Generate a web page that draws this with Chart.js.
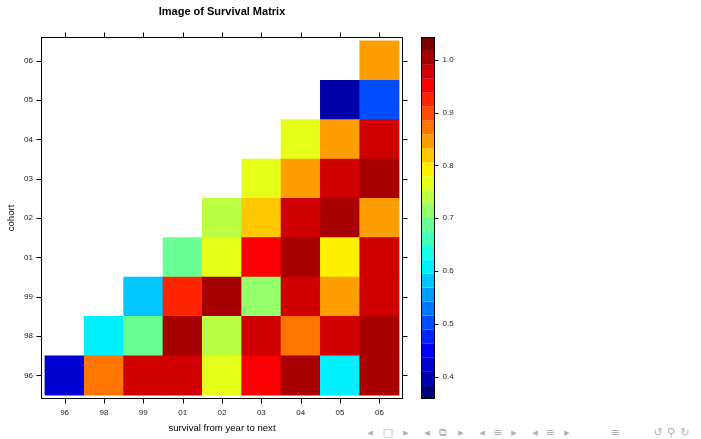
<!DOCTYPE html>
<html><head><meta charset="utf-8">
<script src="https://cdn.jsdelivr.net/npm/chart.js@4/dist/chart.umd.min.js"></script>
<style>html,body{margin:0;padding:0;background:#fff;overflow:hidden}#wrap{position:relative;width:701px;height:439px}</style>
</head><body><div id="wrap"><canvas id="c" width="701" height="439"></canvas></div>
<script>
const years = ['96','98','99','01','02','03','04','05','06'];
const cohorts = ['96','98','99','01','02','03','04','05','06'];
// survival values per cohort (rows, bottom to top), columns follow `years`
const row96 = [0.42,0.87,0.98,0.98,0.77,0.95,1.00,0.61,1.00];
const row98 = [null,0.61,0.69,1.00,0.74,0.98,0.87,0.98,1.00];
const row99 = [null,null,0.58,0.92,1.00,0.71,0.98,0.85,0.98];
const row01 = [null,null,null,0.69,0.77,0.95,1.00,0.79,0.98];
const row02 = [null,null,null,null,0.74,0.82,0.98,1.00,0.85];
const row03 = [null,null,null,null,null,0.77,0.85,0.98,1.00];
const row04 = [null,null,null,null,null,null,0.77,0.85,0.98];
const row05 = [null,null,null,null,null,null,null,0.40,0.50];
const row06 = [null,null,null,null,null,null,null,null,0.85];
const rows = [row96,row98,row99,row01,row02,row03,row04,row05,row06];
const colorbarTicks = [0.4,0.5,0.6,0.7,0.8,0.9,1.0];
const levelMin = 0.358, levelMax = 1.043, levelCount = 26;
const jetAnchors = ['#00007F','#0000FF','#007FFF','#00FFFF','#7FFF7F','#FFFF00','#FF7F00','#FF0000','#7F0000'];
const chartTitle = 'Image of Survival Matrix';

function hexToRgb(h){return [parseInt(h.substr(1,2),16),parseInt(h.substr(3,2),16),parseInt(h.substr(5,2),16)];}
const anchorsRgb = jetAnchors.map(hexToRgb);
const palette = [];
for (let i=0;i<levelCount;i++){
  const p = i*(anchorsRgb.length-1)/(levelCount-1);
  const k = Math.min(Math.floor(p), anchorsRgb.length-2), f = p-k;
  const c = anchorsRgb[k].map((a,j)=>Math.round(a+(anchorsRgb[k+1][j]-a)*f));
  palette.push('rgb('+c.join(',')+')');
}
const levelStep = (levelMax-levelMin)/levelCount;
function colorFor(v){
  let i = Math.floor((v-levelMin)/levelStep);
  i = Math.max(0, Math.min(levelCount-1, i));
  return palette[i];
}

const datasets = rows.map((row, r) => ({
  label: cohorts[r],
  data: row.map((v, j) => v == null ? null : {x: j, y: [r-0.5, r+0.5], v: v}).filter(d => d),
  backgroundColor: ctx => colorFor(ctx.raw.v),
  borderWidth: 0,
  grouped: false,
  barPercentage: 1,
  categoryPercentage: 1
}));

const FONT = 'Liberation Sans, Arial, Helvetica, sans-serif';
const TXT = '#222';

const framePlugin = {
  id: 'frame',
  afterDraw(chart){
    const {ctx, chartArea: a, scales} = chart;
    const L = Math.round(a.left)+0.5, R = Math.round(a.right)-0.5, T = Math.round(a.top)+0.5, B = Math.round(a.bottom)-0.5;
    ctx.save();
    // title, centred over the panel
    ctx.fillStyle = '#000';
    ctx.font = 'bold 11px ' + FONT;
    ctx.textAlign = 'center'; ctx.textBaseline = 'middle';
    ctx.fillText(chartTitle, (a.left + a.right)/2, 12);
    ctx.strokeStyle = '#000'; ctx.lineWidth = 1;
    ctx.strokeRect(L, T, R-L, B-T);
    ctx.beginPath();
    const tl = 5;
    scales.x.ticks.forEach(t => {
      const px = Math.round(scales.x.getPixelForValue(t.value))+0.5;
      ctx.moveTo(px, B); ctx.lineTo(px, B+tl);
      ctx.moveTo(px, T); ctx.lineTo(px, T-tl);
    });
    scales.y.ticks.forEach(t => {
      const py = Math.round(scales.y.getPixelForValue(t.value))+0.5;
      ctx.moveTo(L, py); ctx.lineTo(L-tl, py);
      ctx.moveTo(R, py); ctx.lineTo(R+tl, py);
    });
    ctx.stroke();
    // colour key
    const cb = scales.cb;
    const x0 = Math.round(a.right)+18, w = 14;
    for (let i=0;i<levelCount;i++){
      const y1 = cb.getPixelForValue(levelMin+i*levelStep);
      const y2 = cb.getPixelForValue(levelMin+(i+1)*levelStep);
      ctx.fillStyle = palette[i];
      ctx.fillRect(x0, y2, w, y1-y2);
    }
    const cT = Math.round(cb.getPixelForValue(levelMax))+0.5, cB = Math.round(cb.getPixelForValue(levelMin))-0.5;
    ctx.strokeRect(x0+0.5, cT, w-1, cB-cT);
    ctx.beginPath();
    cb.ticks.forEach(t => {
      const py = Math.round(cb.getPixelForValue(t.value))+0.5;
      ctx.moveTo(x0+w-0.5, py); ctx.lineTo(x0+w+3.5, py);
    });
    ctx.stroke();
    // viewer navigation symbols
    ctx.fillStyle = '#b0b0b0';
    ctx.font = '11px DejaVu Sans';
    const nav = [['◂',370],['□',388],['▸',406],['◂',427],['⧉',443],['▸',461],['◂',482],['≡',498],['▸',514],['◂',535],['≡',550],['▸',567],['≡',615],['↺',658],['⚲',671],['↻',685]];
    nav.forEach(([s,x]) => ctx.fillText(s, x, 433));
    ctx.restore();
  }
};

new Chart(document.getElementById('c'), {
  type: 'bar',
  data: {datasets},
  options: {
    responsive: false,
    animation: false,
    devicePixelRatio: 1,
    layout: {padding: {top: 37, left: 0, right: 0, bottom: 0}},
    plugins: {
      legend: {display: false},
      tooltip: {enabled: false},
      title: {display: false}
    },
    scales: {
      x: {type: 'linear', position: 'bottom', min: -0.6, max: 8.6, offset: false,
        afterBuildTicks: s => { s.ticks = years.map((_, i) => ({value: i})); },
        afterFit: s => { s.height = 40; s.paddingLeft = 0; s.paddingRight = 0; },
        ticks: {callback: v => years[v], font: {family: FONT, size: 8}, color: TXT, padding: 9, maxRotation: 0, autoSkip: false},
        grid: {display: false, drawTicks: false}, border: {display: false},
        title: {display: true, text: 'survival from year to next', color: '#000', font: {family: FONT, size: 9.6}, padding: {top: 0, bottom: 5}}
      },
      y: {type: 'linear', position: 'left', min: -0.6, max: 8.6,
        afterBuildTicks: s => { s.ticks = cohorts.map((_, i) => ({value: i})); },
        afterFit: s => { s.width = 41; s.paddingTop = 0; s.paddingBottom = 0; },
        ticks: {callback: v => cohorts[v], font: {family: FONT, size: 8}, color: TXT, padding: 8, autoSkip: false},
        grid: {display: false, drawTicks: false}, border: {display: false},
        title: {display: true, text: 'cohort', color: '#000', font: {family: FONT, size: 9.6}, padding: {top: 6, bottom: 0}}
      },
      cb: {type: 'linear', position: 'right', min: levelMin, max: levelMax,
        afterBuildTicks: s => { s.ticks = colorbarTicks.map(v => ({value: v})); },
        afterFit: s => { s.width = 298; s.paddingTop = 0; s.paddingBottom = 0; },
        ticks: {callback: v => v.toFixed(1), font: {family: FONT, size: 8}, color: TXT, padding: 39.5},
        grid: {display: false, drawTicks: false}, border: {display: false}
      }
    }
  },
  plugins: [framePlugin]
});
</script></body></html>
